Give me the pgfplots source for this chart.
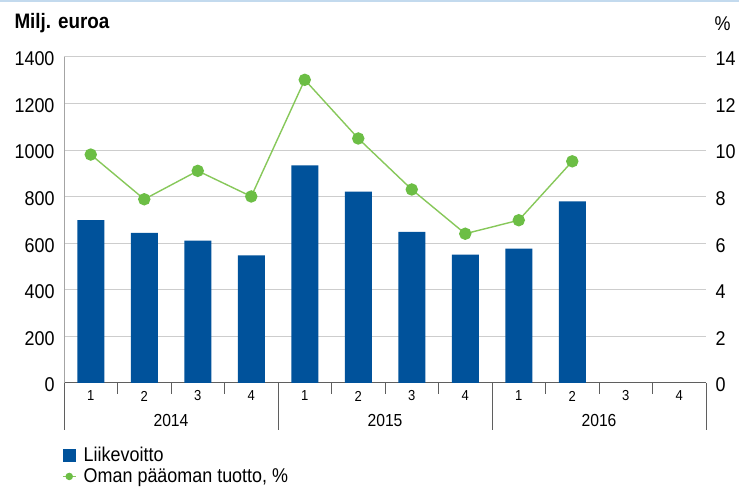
\documentclass[border=0pt]{standalone}
\usepackage{fontspec}
\setmainfont{Liberation Sans}[FakeStretch=0.9]
\usepackage{pgfplots}
\pgfplotsset{compat=1.18}
\definecolor{barblue}{RGB}{0,82,155}
\definecolor{lgreen}{RGB}{135,200,90}
\definecolor{mgreen}{RGB}{108,190,69}
\definecolor{gridgray}{RGB}{205,205,205}
\definecolor{axgray}{RGB}{95,95,95}
\definecolor{topblue}{RGB}{195,218,238}
\begin{document}
\begin{tikzpicture}[x=1bp,y=1bp]
\useasboundingbox (-64,-106) rectangle (675,383);
\fill[white] (-64,-106) rectangle (675,383);
\draw[topblue, line width=1.5bp] (-64,382) -- (675,382);
\begin{axis}[
  at={(0bp,0bp)}, anchor=south west,
  scale only axis, width=642bp, height=326bp,
  xmin=0.5, xmax=12.5, ymin=0, ymax=1400,
  ybar, bar width=27bp,
  axis x line*=bottom, axis y line*=left,
  axis line style={axgray, line width=1bp},
  y axis line style={gridgray!80!black, line width=0.9bp},
  ytick={0,200,...,1400},
  ymajorgrids, grid style={gridgray, line width=1bp},
  major tick length=0bp,
  xtick={1,...,12},
  xticklabels={1,2,3,4,1,2,3,4,1,2,3,4},
  minor xtick={1.5,2.5,...,11.5},
  minor tick length=11bp, tick align=outside,
  minor x tick style={axgray, line width=0.6bp},
  xticklabel style={font=\fontsize{14.5}{15}\selectfont, anchor=center, yshift=-13bp},
  yticklabel style={font=\fontsize{20}{21}\selectfont, xshift=-6bp, yshift=-2bp},
  /pgf/number format/assume math mode=true,
  /pgf/number format/1000 sep={},
  clip=false,
]
\addplot[fill=barblue, draw=none] coordinates {
 (1,699) (2,645) (3,611) (4,548) (5,935) (6,822) (7,649) (8,551) (9,577) (10,780)
};
\draw[axgray, line width=0.6bp] (axis cs:0.5,0) -- ++(0bp,-47bp);
\draw[axgray, line width=0.6bp] (axis cs:4.5,0) -- ++(0bp,-47bp);
\draw[axgray, line width=0.6bp] (axis cs:8.5,0) -- ++(0bp,-47bp);
\draw[axgray, line width=0.6bp] (axis cs:12.5,0) -- ++(0bp,-47bp);
\node[font=\fontsize{17.5}{18}\selectfont] at (axis cs:2.5,0) [yshift=-37bp] {2014};
\node[font=\fontsize{17.5}{18}\selectfont] at (axis cs:6.5,0) [yshift=-37bp] {2015};
\node[font=\fontsize{17.5}{18}\selectfont] at (axis cs:10.5,0) [yshift=-37bp] {2016};
\end{axis}
\begin{axis}[
  at={(0bp,0bp)}, anchor=south west,
  scale only axis, width=642bp, height=326bp,
  xmin=0.5, xmax=12.5, ymin=0, ymax=14,
  axis x line=none, axis y line*=right,
  y axis line style={draw=none},
  ytick={0,2,...,14}, major tick length=0bp,
  yticklabel style={font=\fontsize{20}{21}\selectfont, xshift=6bp, yshift=-2bp},
  /pgf/number format/assume math mode=true,
  clip=false,
  legend style={at={(rel axis cs:-0.008,-0.183)}, anchor=north west, draw=none, fill=none,
    font=\fontsize{20}{21}\selectfont, row sep=2bp},
  legend cell align=left,
]
\addlegendimage{legend image code/.code={\fill[barblue] (0bp,-6bp) rectangle (12bp,6bp); \path[draw=none, fill=none] (0bp,0bp) -- (19bp,0bp);}}
\addlegendentry{Liikevoitto}
\addplot[lgreen, line width=1.4bp, mark=*, mark size=5.5bp,
  mark options={fill=mgreen, draw=mgreen},
  legend image code/.code={\draw[lgreen, line width=1.4bp] (0bp,0bp) -- (13bp,0bp); \fill[mgreen] (6.5bp,0bp) circle (3bp); \path[draw=none, fill=none] (0bp,0bp) -- (19bp,0bp);}]
coordinates {
 (1,9.81) (2,7.89) (3,9.11) (4,8.01) (5,13.02) (6,10.5) (7,8.31) (8,6.41) (9,6.99) (10,9.52)
};
\addlegendentry{Oman pääoman tuotto, \%}
\end{axis}
\node[anchor=west, font=\bfseries\fontsize{21}{22}\selectfont] at (-53,360) {Milj. euroa};
\node[anchor=east, font=\fontsize{20}{21}\selectfont] at (670,359) {\%};
\end{tikzpicture}
\end{document}
